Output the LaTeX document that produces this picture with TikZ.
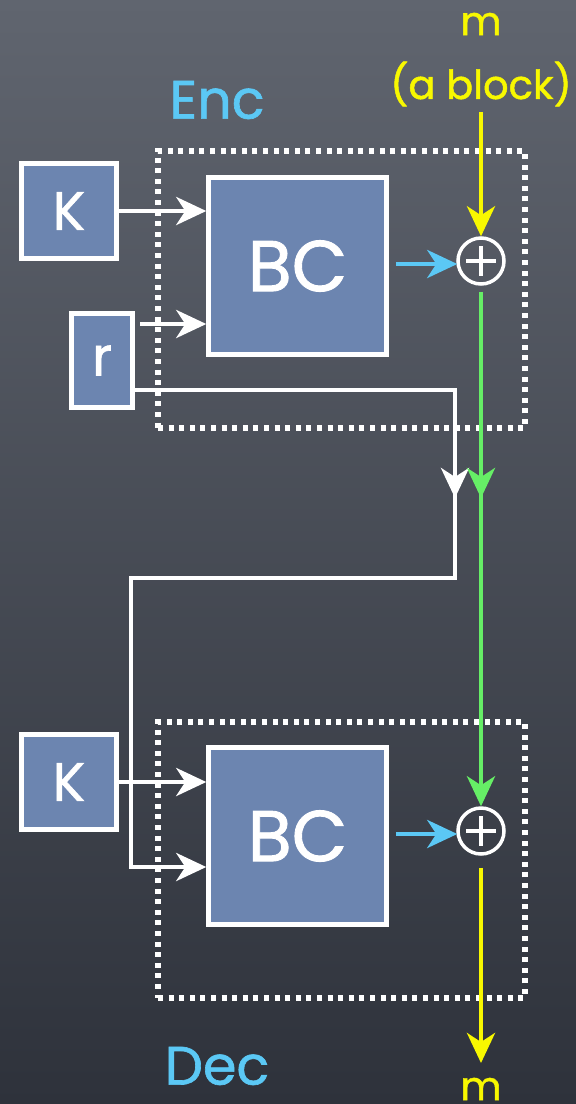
\documentclass[tikz,border=0pt]{standalone}
\usepackage{fontspec}
\setmainfont{Poppins}[FakeBold=1.2]
\usetikzlibrary{arrows.meta,calc}
\definecolor{boxblue}{HTML}{6C85B0}
\definecolor{bgtop}{HTML}{60656F}
\definecolor{bgbot}{HTML}{2E323B}
\definecolor{encblue}{HTML}{5BC8F5}
\definecolor{ylw}{HTML}{F8F800}
\definecolor{grn}{HTML}{66EE66}
\begin{document}
\begin{tikzpicture}[x=1pt,y=-1pt,
  blk/.style={draw=white, line width=4.5pt, fill=boxblue, text=white, inner sep=0pt},
  bigtxt/.style={font=\fontsize{72}{72}\selectfont},
  midtxt/.style={font=\fontsize{54}{54}\selectfont},
  xorc/.style={circle, draw=white, line width=3.5pt, minimum size=46pt, inner sep=0pt},
  tip/.style={-{Stealth[length=30pt,width=28pt,inset=9pt]}},
  warr/.style={draw=white, line width=4.5pt, tip},
  garr/.style={draw=grn, line width=4.5pt, tip},
  yarr/.style={draw=ylw, line width=4.5pt, tip},
  barr/.style={draw=encblue, line width=4.5pt, tip},
  dotbox/.style={draw=white, line width=5.5pt, dash pattern=on 5pt off 5.6pt, inner sep=0pt},
  lbl/.style={font=\fontsize{54}{54}\selectfont, text=encblue},
  ylbl/.style={font=\fontsize{40}{40}\selectfont, text=ylw}]
\shade[top color=bgtop, bottom color=bgbot] (0,0) rectangle (576,1104);
\useasboundingbox (0,0) rectangle (576,1104);

% ---------- Enc ----------
\node[dotbox, minimum width=367pt, minimum height=277pt] (encbox) at (341.5,289.5) {};
\node[lbl] (enclbl) at (217,100) {Enc};
\node[ylbl] (mtop) at (481,24) {m};
\node[ylbl] (ablk) at (481,84) {(a block)};
\node[blk, midtxt, minimum width=95pt, minimum height=95pt] (ke) at (69,211) {K};
\node[blk, bigtxt, minimum width=178pt, minimum height=177pt] (bce) at (297.5,266) {BC};
\node[blk, midtxt, minimum width=61pt, minimum height=94pt] (r) at (102,360.5) {r};
\node[xorc] (xe) at (481,261) {};

% ---------- Dec ----------
\node[dotbox, minimum width=367pt, minimum height=276pt] (decbox) at (341.5,860) {};
\node[lbl] (declbl) at (217,1066) {Dec};
\node[ylbl] (mbot) at (481,1089) {m};
\node[blk, midtxt, minimum width=95pt, minimum height=95pt] (kd) at (69,782) {K};
\node[blk, bigtxt, minimum width=178pt, minimum height=177pt] (bcd) at (297.5,836) {BC};
\node[xorc] (xd) at (481,831) {};

% plus signs
\foreach \c in {xe,xd} {
  \draw[white, line width=3.5pt] ($(\c)+(-15,0)$) -- ($(\c)+(15,0)$)
                                 ($(\c)+(0,-15)$) -- ($(\c)+(0,15)$);
}

% ---------- connectors ----------
\coordinate (ytop) at (481,112);
\draw[yarr] (ytop) -- (xe.north);
\draw[warr] (ke.east) -- (ke.east -| bce.west);
\coordinate (rs) at (140,324);
\draw[warr] (rs) -- (rs -| bce.west);
\draw[barr] ($(bce.east)+(7,-2)$) -- ($(bce.east -| xe.west)+(1,-2)$);

\coordinate (rout) at ($(r.south east)+(0,-20)$);
\coordinate (rturn) at (455,578);
\coordinate (rdown) at (131,867);
\draw[warr] (rout) -| (rturn) -| (rdown) -- (rdown -| bcd.west);
\coordinate (rmid) at (455,498);
\draw[warr] (455,440) -- (rmid);

\coordinate (gmid) at (481,498);
\draw[garr] ($(xe.south)+(0,6)$) -- (xd.north);
\draw[garr] ($(xe.south)+(0,6)$) -- (gmid);

\draw[warr] (kd.east) -- (kd.east -| bcd.west);
\draw[barr] ($(bcd.east)+(7,-2)$) -- ($(bcd.east -| xd.west)+(1,-2)$);
\coordinate (yend) at (481,1063);
\draw[yarr] ($(xd.south)+(0,12)$) -- (yend);
\end{tikzpicture}
\end{document}
